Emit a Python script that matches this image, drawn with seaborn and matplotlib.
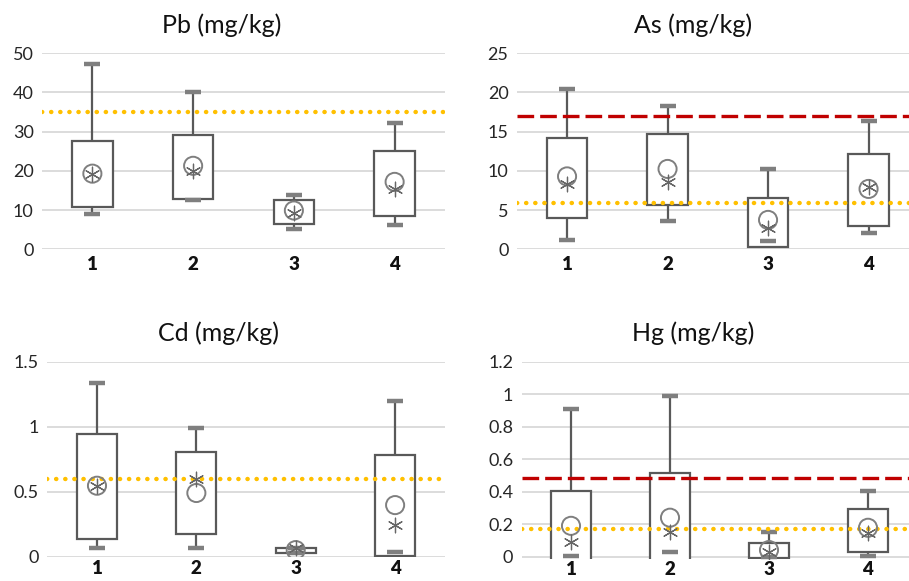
import numpy as np
import pandas as pd
import seaborn as sns
import matplotlib.pyplot as plt

# ---------------- data ----------------
categories = ["1", "2", "3", "4"]

pb_lo = [9.1, 12.7, 5.3, 6.3]
pb_q1 = [10.7, 12.8, 6.5, 8.5]
pb_q3 = [27.5, 29.2, 12.6, 25.1]
pb_hi = [47.3, 40.1, 13.9, 32.1]
pb_circle = [19.3, 21.3, 9.9, 17.2]
pb_star = [19.2, 20.1, 9.2, 15.3]
pb_yellow = 35.0
pb_red = None

as_lo = [1.15, 3.6, 1.1, 2.1]
as_q1 = [4.05, 5.6, 0.3, 3.0]
as_q3 = [14.2, 14.7, 6.6, 12.1]
as_hi = [20.5, 18.3, 10.2, 16.4]
as_circle = [9.3, 10.25, 3.75, 7.7]
as_star = [8.3, 8.6, 2.7, 7.9]
as_yellow = 5.9
as_red = 17.0

cd_lo = [0.067, 0.067, 0.031, 0.036]
cd_q1 = [0.136, 0.172, 0.031, 0.005]
cd_q3 = [0.941, 0.808, 0.064, 0.78]
cd_hi = [1.34, 0.99, 0.07, 1.2]
cd_circle = [0.546, 0.49, 0.051, 0.397]
cd_star = [0.546, 0.595, 0.064, 0.241]
cd_yellow = 0.6
cd_red = None

hg_lo = [0.006, 0.027, 0.0, 0.006]
hg_q1 = [-0.05, -0.05, -0.01, 0.031]
hg_q3 = [0.406, 0.513, 0.082, 0.291]
hg_hi = [0.909, 0.99, 0.15, 0.406]
hg_circle = [0.19, 0.24, 0.041, 0.178]
hg_star = [0.088, 0.15, 0.027, 0.144]
hg_yellow = 0.168
hg_red = 0.486

panels = [
    dict(title="Pb (mg/kg)", lo=pb_lo, q1=pb_q1, q3=pb_q3, hi=pb_hi,
         circle=pb_circle, star=pb_star, yellow=pb_yellow, red=pb_red,
         ticks=[0, 10, 20, 30, 40, 50], ticklabels=["0", "10", "20", "30", "40", "50"],
         ylim=(0, 50)),
    dict(title="As (mg/kg)", lo=as_lo, q1=as_q1, q3=as_q3, hi=as_hi,
         circle=as_circle, star=as_star, yellow=as_yellow, red=as_red,
         ticks=[0, 5, 10, 15, 20, 25], ticklabels=["0", "5", "10", "15", "20", "25"],
         ylim=(0, 25)),
    dict(title="Cd (mg/kg)", lo=cd_lo, q1=cd_q1, q3=cd_q3, hi=cd_hi,
         circle=cd_circle, star=cd_star, yellow=cd_yellow, red=cd_red,
         ticks=[0, 0.5, 1, 1.5], ticklabels=["0", "0.5", "1", "1.5"],
         ylim=(0, 1.5)),
    dict(title="Hg (mg/kg)", lo=hg_lo, q1=hg_q1, q3=hg_q3, hi=hg_hi,
         circle=hg_circle, star=hg_star, yellow=hg_yellow, red=hg_red,
         ticks=[0, 0.2, 0.4, 0.6, 0.8, 1.0, 1.2],
         ticklabels=["0", "0.2", "0.4", "0.6", "0.8", "1", "1.2"],
         ylim=(-0.016, 1.2)),
]

# ---------------- style ----------------
sns.set_theme(style="white")
plt.rcParams["font.family"] = ["Lato", "DejaVu Sans"]

W, H = 909, 581
fig = plt.figure(figsize=(W / 100, H / 100), dpi=100)

# axes rectangles in pixels: left, top, right, bottom
rects_px = [
    (42, 53.3, 445, 249.3),
    (516.8, 53.3, 918.8, 249.3),
    (47.3, 361.7, 444.8, 556.7),
    (521.5, 361.7, 917.5, 559.3),
]
title_px = [(222, 25), (693, 25), (218, 333), (693, 333)]
xpads = [5, 5, 2.5, 1.0]

box_edge = "#595959"
cap_col = "#7f7f7f"
mark_col = "#7f7f7f"
grid_col = "#d9d9d9"

for p, (l, t, r, b), (tx, ty), xpad in zip(panels, rects_px, title_px, xpads):
    ax = fig.add_axes([l / W, 1 - b / H, (r - l) / W, (b - t) / H])

    # long-form data with five values per category -> exact five-number boxes
    rows = []
    for c, lo, q1, q3, hi, st in zip(categories, p["lo"], p["q1"], p["q3"], p["hi"], p["star"]):
        med = float(np.clip(st, q1, q3))
        for v in (min(lo, q1), q1, med, q3, hi):
            rows.append((c, v))
    df = pd.DataFrame(rows, columns=["cat", "val"])

    ax.set_axisbelow(True)
    ax.yaxis.grid(True, color=grid_col, linewidth=1.3)
    ax.xaxis.grid(False)

    sns.boxplot(data=df, x="cat", y="val", order=categories, ax=ax,
                whis=(0, 100), width=0.4, color="white", saturation=1,
                linecolor=box_edge, linewidth=1.6, showcaps=False,
                medianprops={"visible": False}, showfliers=False)

    # whisker caps
    caps = pd.DataFrame({"cat": categories * 2, "val": list(p["lo"]) + list(p["hi"])})
    sns.scatterplot(data=caps, x="cat", y="val", marker="_", s=130,
                    color=cap_col, linewidth=3.2, ax=ax, zorder=4, legend=False)

    # reference lines
    if p["yellow"] is not None:
        ax.axhline(p["yellow"], color="#FFC000", linewidth=3.2,
                   linestyle=(0, (0.05, 2.0)), dash_capstyle="round", zorder=5)
    if p["red"] is not None:
        ax.axhline(p["red"], color="#C00000", linewidth=2.4,
                   linestyle=(0, (5.0, 1.8)), zorder=5)

    # markers
    sns.scatterplot(x=categories, y=p["circle"], marker="o", s=170,
                    facecolor="none", edgecolor=mark_col, linewidth=1.4,
                    ax=ax, zorder=6, legend=False)
    sns.scatterplot(x=categories, y=p["star"], marker=(6, 2, 0), s=110,
                    color="#666666", linewidth=0.9, ax=ax, zorder=7, legend=False)

    ax.set_xlim(-0.5, 3.5)
    ax.set_ylim(*p["ylim"])
    ax.set_yticks(p["ticks"])
    ax.set_yticklabels(p["ticklabels"], fontsize=13, color="#262626")
    ax.set_xticks(range(len(categories)))
    ax.set_xticklabels(categories, fontsize=13.5, fontweight="heavy", color="#111111")
    ax.tick_params(axis="y", length=0, pad=6)
    ax.tick_params(axis="x", length=0, pad=xpad)
    ax.set_xlabel("")
    ax.set_ylabel("")
    for s in ax.spines.values():
        s.set_visible(False)

    fig.text(tx / W, 1 - ty / H, p["title"], ha="center", va="center",
             fontsize=18, color="#111111")

fig.savefig("out.png", dpi=100)
